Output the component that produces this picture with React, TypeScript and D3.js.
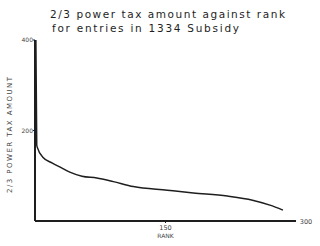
import React, { useEffect, useRef } from 'react';
import * as d3 from 'd3';

// rank vs 2/3 power tax amount
const ranks = [1, 2, 3, 9, 20, 29, 40, 54, 71, 90, 113, 152, 182, 221, 250, 270, 285];
const amounts = [400, 168, 161, 141, 128, 119, 108, 99, 95, 87, 76, 68, 62, 55, 46, 35, 24];
const yTicks = [200, 400];
const xTicks = [150, 300];
const titleLines = ['2/3 power tax amount against rank', 'for entries in 1334 Subsidy'];

function App() {
  const ref = useRef<SVGSVGElement>(null);

  useEffect(() => {
    const width = 320;
    const height = 246;
    const svg = d3.select(ref.current);
    svg.selectAll('*').remove();

    const x = d3.scaleLinear().domain([0, 300]).range([35, 296]);
    const y = d3.scaleLinear().domain([0, 400]).range([221, 40]);
    const ink = '#1e1e1e';
    const grey = '#444';
    const font = '"DejaVu Sans", sans-serif';

    svg.append('rect').attr('width', width).attr('height', height).attr('fill', '#fff');

    // title, stretched like the hand lettering
    const titleWidths = [235, 187];
    svg.append('g')
      .selectAll('text')
      .data(titleLines)
      .join('text')
      .attr('x', (d, i) => 50 + i * 2)
      .attr('y', (d, i) => 18 + i * 14)
      .attr('textLength', (d, i) => titleWidths[i])
      .attr('lengthAdjust', 'spacing')
      .attr('fill', ink)
      .style('font', `10.5px ${font}`)
      .text(d => d);

    // axes
    svg.append('line')
      .attr('x1', x(0)).attr('x2', x(0))
      .attr('y1', y(400)).attr('y2', y(0))
      .attr('stroke', ink).attr('stroke-width', 2);
    svg.append('line')
      .attr('x1', x(0)).attr('x2', x(300))
      .attr('y1', y(0)).attr('y2', y(0))
      .attr('stroke', ink).attr('stroke-width', 2);

    // y ticks
    const yt = svg.append('g');
    yt.selectAll('line')
      .data(yTicks)
      .join('line')
      .attr('x1', x(0) - 2).attr('x2', x(0))
      .attr('y1', d => y(d)).attr('y2', d => y(d))
      .attr('stroke', ink);
    yt.selectAll('text')
      .data(yTicks)
      .join('text')
      .attr('x', x(0) - 2)
      .attr('y', d => y(d) + 2)
      .attr('text-anchor', 'end')
      .attr('fill', grey)
      .style('font', `6px ${font}`)
      .text(d => d);

    // x ticks
    const xt = svg.append('g');
    xt.selectAll('line')
      .data(xTicks.slice(0, 1))
      .join('line')
      .attr('x1', d => x(d)).attr('x2', d => x(d))
      .attr('y1', y(0)).attr('y2', y(0) + 2)
      .attr('stroke', ink);
    xt.selectAll('text')
      .data(xTicks)
      .join('text')
      .attr('x', d => (d === 300 ? x(d) + 10 : x(d)))
      .attr('y', d => (d === 300 ? y(0) + 3 : y(0) + 9))
      .attr('text-anchor', 'middle')
      .attr('fill', grey)
      .style('font', `6.5px ${font}`)
      .text(d => d);

    // axis titles
    svg.append('text')
      .attr('x', x(150))
      .attr('y', y(0) + 17)
      .attr('text-anchor', 'middle')
      .attr('fill', grey)
      .style('font', `6px ${font}`)
      .text('RANK');
    svg.append('text')
      .attr('transform', `translate(12,135) rotate(-90)`)
      .attr('x', -58)
      .attr('textLength', 116)
      .attr('lengthAdjust', 'spacing')
      .attr('fill', grey)
      .style('font', `7px ${font}`)
      .text('2/3 POWER TAX AMOUNT');

    // curve
    const line = d3.line<number>()
      .x((d, i) => x(ranks[i]))
      .y(d => y(d))
      .curve(d3.curveMonotoneX);
    svg.append('path')
      .datum(amounts)
      .attr('d', line)
      .attr('fill', 'none')
      .attr('stroke', ink)
      .attr('stroke-width', 1.5);
  }, []);

  return (
    <svg ref={ref} width={320} height={246}
      style={{ position: 'absolute', left: 0, top: 0, display: 'block' }} />
  );
}

export default App;
